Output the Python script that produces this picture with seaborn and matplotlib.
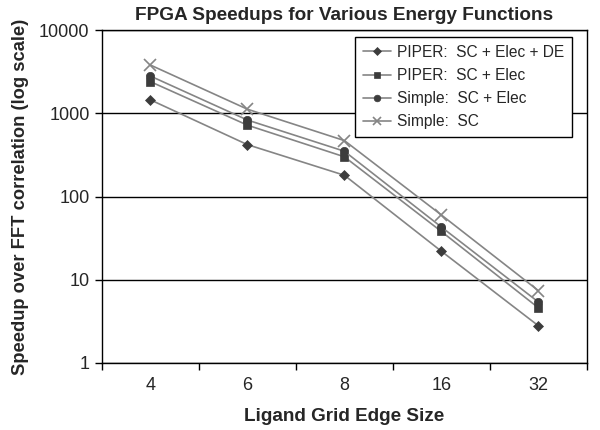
import numpy as np
import pandas as pd
import matplotlib
matplotlib.use("Agg")
import matplotlib.pyplot as plt
import seaborn as sns

# Data
grid_sizes = ["4", "6", "8", "16", "32"]
series_names = ["PIPER:  SC + Elec + DE", "PIPER:  SC + Elec",
                "Simple:  SC + Elec", "Simple:  SC"]
piper_sc_elec_de = [1450, 420, 180, 22, 2.8]
piper_sc_elec = [2400, 720, 300, 38, 4.6]
simple_sc_elec = [2800, 830, 350, 43, 5.4]
simple_sc = [3800, 1120, 470, 60, 7.4]

values = [piper_sc_elec_de, piper_sc_elec, simple_sc_elec, simple_sc]
markers = ["D", "s", "o", "x"]
marker_sizes = [5, 6, 6, 8]

rows = []
for name, vals in zip(series_names, values):
    for i, v in enumerate(vals):
        rows.append({"series": name, "pos": i, "speedup": v})
df = pd.DataFrame(rows)

sns.set_style("white")
plt.rcParams["font.family"] = ["Liberation Sans", "DejaVu Sans"]

fig = plt.figure(figsize=(6, 4.3), dpi=100)
ax = fig.add_axes([0.17, 0.156, 0.808, 0.774])

line_col = "#858585"
mark_col = "#3c3c3c"
for name, m, ms in zip(series_names, markers, marker_sizes):
    sub = df[df["series"] == name]
    sns.lineplot(data=sub, x="pos", y="speedup", ax=ax, color=line_col,
                 linewidth=1.2, marker=m, markersize=ms,
                 markerfacecolor=mark_col if m != "x" else line_col,
                 markeredgecolor=mark_col if m != "x" else line_col,
                 markeredgewidth=1.2 if m == "x" else 0.5, label=name)

ax.set_yscale("log")
ax.set_ylim(1, 10000)
ax.set_xlim(-0.5, len(grid_sizes) - 0.5)
ax.set_yticks([1, 10, 100, 1000, 10000])
ax.set_yticklabels(["1", "10", "100", "1000", "10000"])
ax.yaxis.set_minor_locator(matplotlib.ticker.NullLocator())
ax.set_xticks(range(len(grid_sizes)))
ax.set_xticklabels(grid_sizes)
ax.set_xticks(np.arange(-0.5, len(grid_sizes)), minor=True)
ax.tick_params(axis="x", which="major", length=0, labelsize=13, pad=10)
ax.tick_params(axis="x", which="minor", length=5, width=1, color="black",
               direction="out", bottom=True)
ax.tick_params(axis="y", which="major", length=5, width=1, color="black",
               direction="out", left=True, labelsize=13, pad=4)

ax.grid(axis="y", color="black", linewidth=1)
ax.set_axisbelow(True)
for s in ax.spines.values():
    s.set_color("black")
    s.set_linewidth(1)

ax.set_title("FPGA Speedups for Various Energy Functions",
             fontsize=13.7, fontweight="bold", pad=7)
ax.set_xlabel("Ligand Grid Edge Size", fontsize=13.6, fontweight="bold",
              labelpad=10)
ax.set_ylabel("Speedup over FFT correlation (log scale)", fontsize=13.2,
              fontweight="bold", labelpad=7)

leg = ax.legend(loc="upper right", bbox_to_anchor=(0.969, 0.979),
                borderaxespad=0, frameon=True, fancybox=False, framealpha=1,
                edgecolor="black", fontsize=11.2, handlelength=1.8,
                borderpad=0.5, labelspacing=0.52, handletextpad=0.4,
                markerscale=0.8)
leg.get_frame().set_linewidth(1)

fig.savefig("out.png", dpi=100)
